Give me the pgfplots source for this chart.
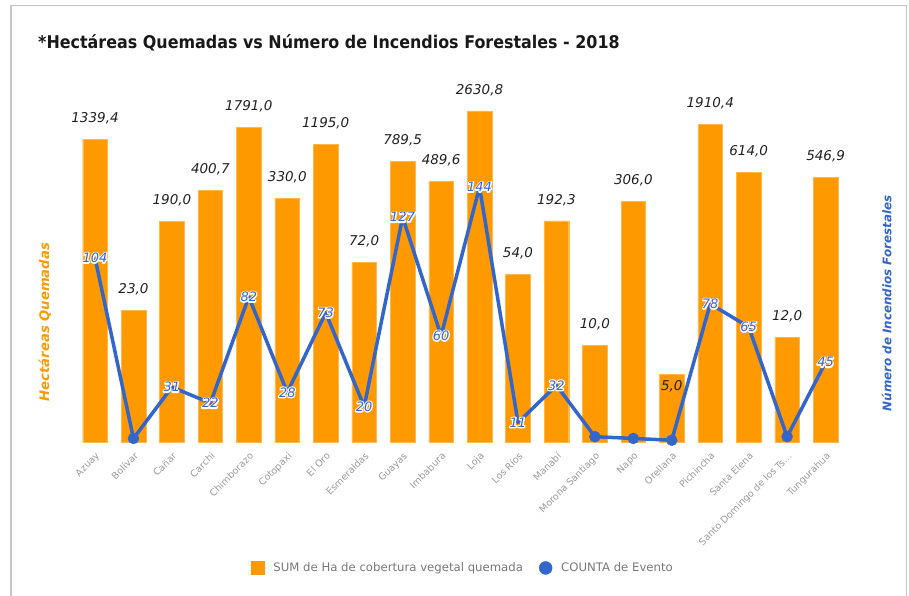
\documentclass[border=0pt]{standalone}
\usepackage{fontspec}
\setmainfont{DejaVu Sans}
\newfontfamily\titlefont[FakeStretch=0.91]{DejaVu Sans}
\usepackage{pgfplots}
\usepackage{pgfplotstable}
\pgfplotsset{compat=1.18}
\definecolor{barC}{HTML}{FF9900}
\definecolor{lineC}{HTML}{3366CC}
\definecolor{tickC}{HTML}{999999}
\definecolor{legC}{HTML}{777777}
\definecolor{frameC}{HTML}{C4C4C4}
% white halo: stroke-only copy in white, then the normal filled text
\newcommand{\halo}[1]{\makebox[0pt][l]{\special{pdf:literal direct 1 Tr 2.4 w 1 j 1 1 1 RG}#1\special{pdf:literal direct 0 Tr}}#1}

\pgfplotstableread{
x val lab dy
0 1339.4 1339,4 21
1 23.0 23,0 21
2 190.0 190,0 21
3 400.7 400,7 21
4 1791.0 1791,0 21
5 330.0 330,0 21
6 1195.0 1195,0 21
7 72.0 72,0 21
8 789.5 789,5 21
9 489.6 489,6 21
10 2630.8 2630,8 21
11 54.0 54,0 21
12 192.3 192,3 21
13 10.0 10,0 21
14 306.0 306,0 21
15 5.0 5,0 -12
16 1910.4 1910,4 21
17 614.0 614,0 21
18 12.0 12,0 21
19 546.9 546,9 21
}\bardata

\pgfplotstableread{
x val lab
0 104 104
1 2 {}
2 31 31
3 22 22
4 82 82
5 28 28
6 73 73
7 20 20
8 127 127
9 60 60
10 144 144
11 11 11
12 32 32
13 3 {}
14 2 {}
15 1 {}
16 78 78
17 65 65
18 3 {}
19 45 45
}\linedata

\begin{document}
\begin{tikzpicture}
\useasboundingbox (0pt,0pt) rectangle (909pt,596pt);
% card frame
\draw[frameC, line width=1.5pt] (11pt,0pt) -- (11pt,590.3pt) -- (906.7pt,590.3pt) -- (906.7pt,0pt);
% title
\node[anchor=west, inner sep=0pt, font=\titlefont\bfseries\fontsize{17.5}{20}\selectfont, text=black!90] at (38pt,553pt) {*Hectáreas Quemadas vs Número de Incendios Forestales - 2018};

\begin{axis}[
  at={(75.8pt,154pt)}, anchor=south west,
  scale only axis, width=769pt, height=347pt,
  xmin=-0.5, xmax=19.5,
  ymode=log, ymin=1, ymax=3850,
  ytick=\empty,
  axis line style={draw=none},
  major tick length=0pt,
  xtick={0,...,19},
  xticklabels={Azuay,Bolívar,Cañar,Carchi,Chimborazo,Cotopaxi,El Oro,Esmeraldas,Guayas,Imbabura,Loja,Los Ríos,Manabí,Morona Santiago,Napo,Orellana,Pichincha,Santa Elena,Santo Domingo de los Ts…,Tungurahua},
  xticklabel style={yshift=-8pt, rotate=45, anchor=north east, font=\fontsize{9.5}{11}\selectfont, text=tickC, inner sep=1pt},
  ylabel={Hectáreas Quemadas},
  ylabel style={at={(axis description cs:0,0.107)}, anchor=west, yshift=31pt, font=\bfseries\itshape\fontsize{13.2}{15}\selectfont, text=barC},
  clip=false,
]
\addplot[ybar, bar width=24.6pt, fill=barC, draw=barC!70!white, line width=0.4pt,
  nodes near coords, point meta=explicit symbolic,
  visualization depends on={\thisrow{dy} \as \dy},
  every node near coord/.append style={anchor=center, yshift=\dy pt, font=\itshape\fontsize{13.5}{15}\selectfont, text=black!87}]
  table[x=x, y=val, meta=lab] {\bardata};
\end{axis}

\begin{axis}[
  at={(75.8pt,154pt)}, anchor=south west,
  scale only axis, width=769pt, height=347pt,
  xmin=-0.5, xmax=19.5,
  ymin=0, ymax=196,
  xtick=\empty, ytick=\empty,
  axis line style={draw=none},
  ylabel={Número de Incendios Forestales},
  ylabel style={at={(axis description cs:1,0.078)}, anchor=west, yshift=-42pt, font=\bfseries\itshape\fontsize{11.9}{14}\selectfont, text=lineC},
  clip=false,
  legend style={at={(0.5035,-0.363)}, anchor=center, draw=none, fill=none, legend columns=-1,
    font=\fontsize{11.7}{13}\selectfont, text=legC,
    /tikz/every even column/.append style={column sep=14pt}},
]
\addlegendimage{legend image code/.code={\fill[barC] (0pt,-6.5pt) rectangle (13pt,6.5pt); \path[draw=none, fill=none] (0pt,0pt) -- (20pt,0pt);}}
\addlegendentry{SUM de Ha de cobertura vegetal quemada}
\addlegendimage{legend image code/.code={\fill[lineC] (6.5pt,0pt) circle (6.5pt); \path[draw=none, fill=none] (0pt,0pt) -- (20pt,0pt);}}
\addlegendentry{COUNTA de Evento}
\addplot[lineC, line width=3.5pt, line join=round, forget plot,
  nodes near coords={\halo{\pgfplotspointmeta}}, point meta=explicit symbolic,
  every node near coord/.append style={anchor=center, font=\itshape\fontsize{13}{15}\selectfont, text=lineC, inner sep=0pt}]
  table[x=x, y=val, meta=lab] {\linedata};
\addplot[only marks, mark=*, mark size=5.5pt, lineC, forget plot]
  coordinates {(1,2) (13,3) (14,2) (15,1) (18,3)};
\end{axis}
\end{tikzpicture}
\end{document}
